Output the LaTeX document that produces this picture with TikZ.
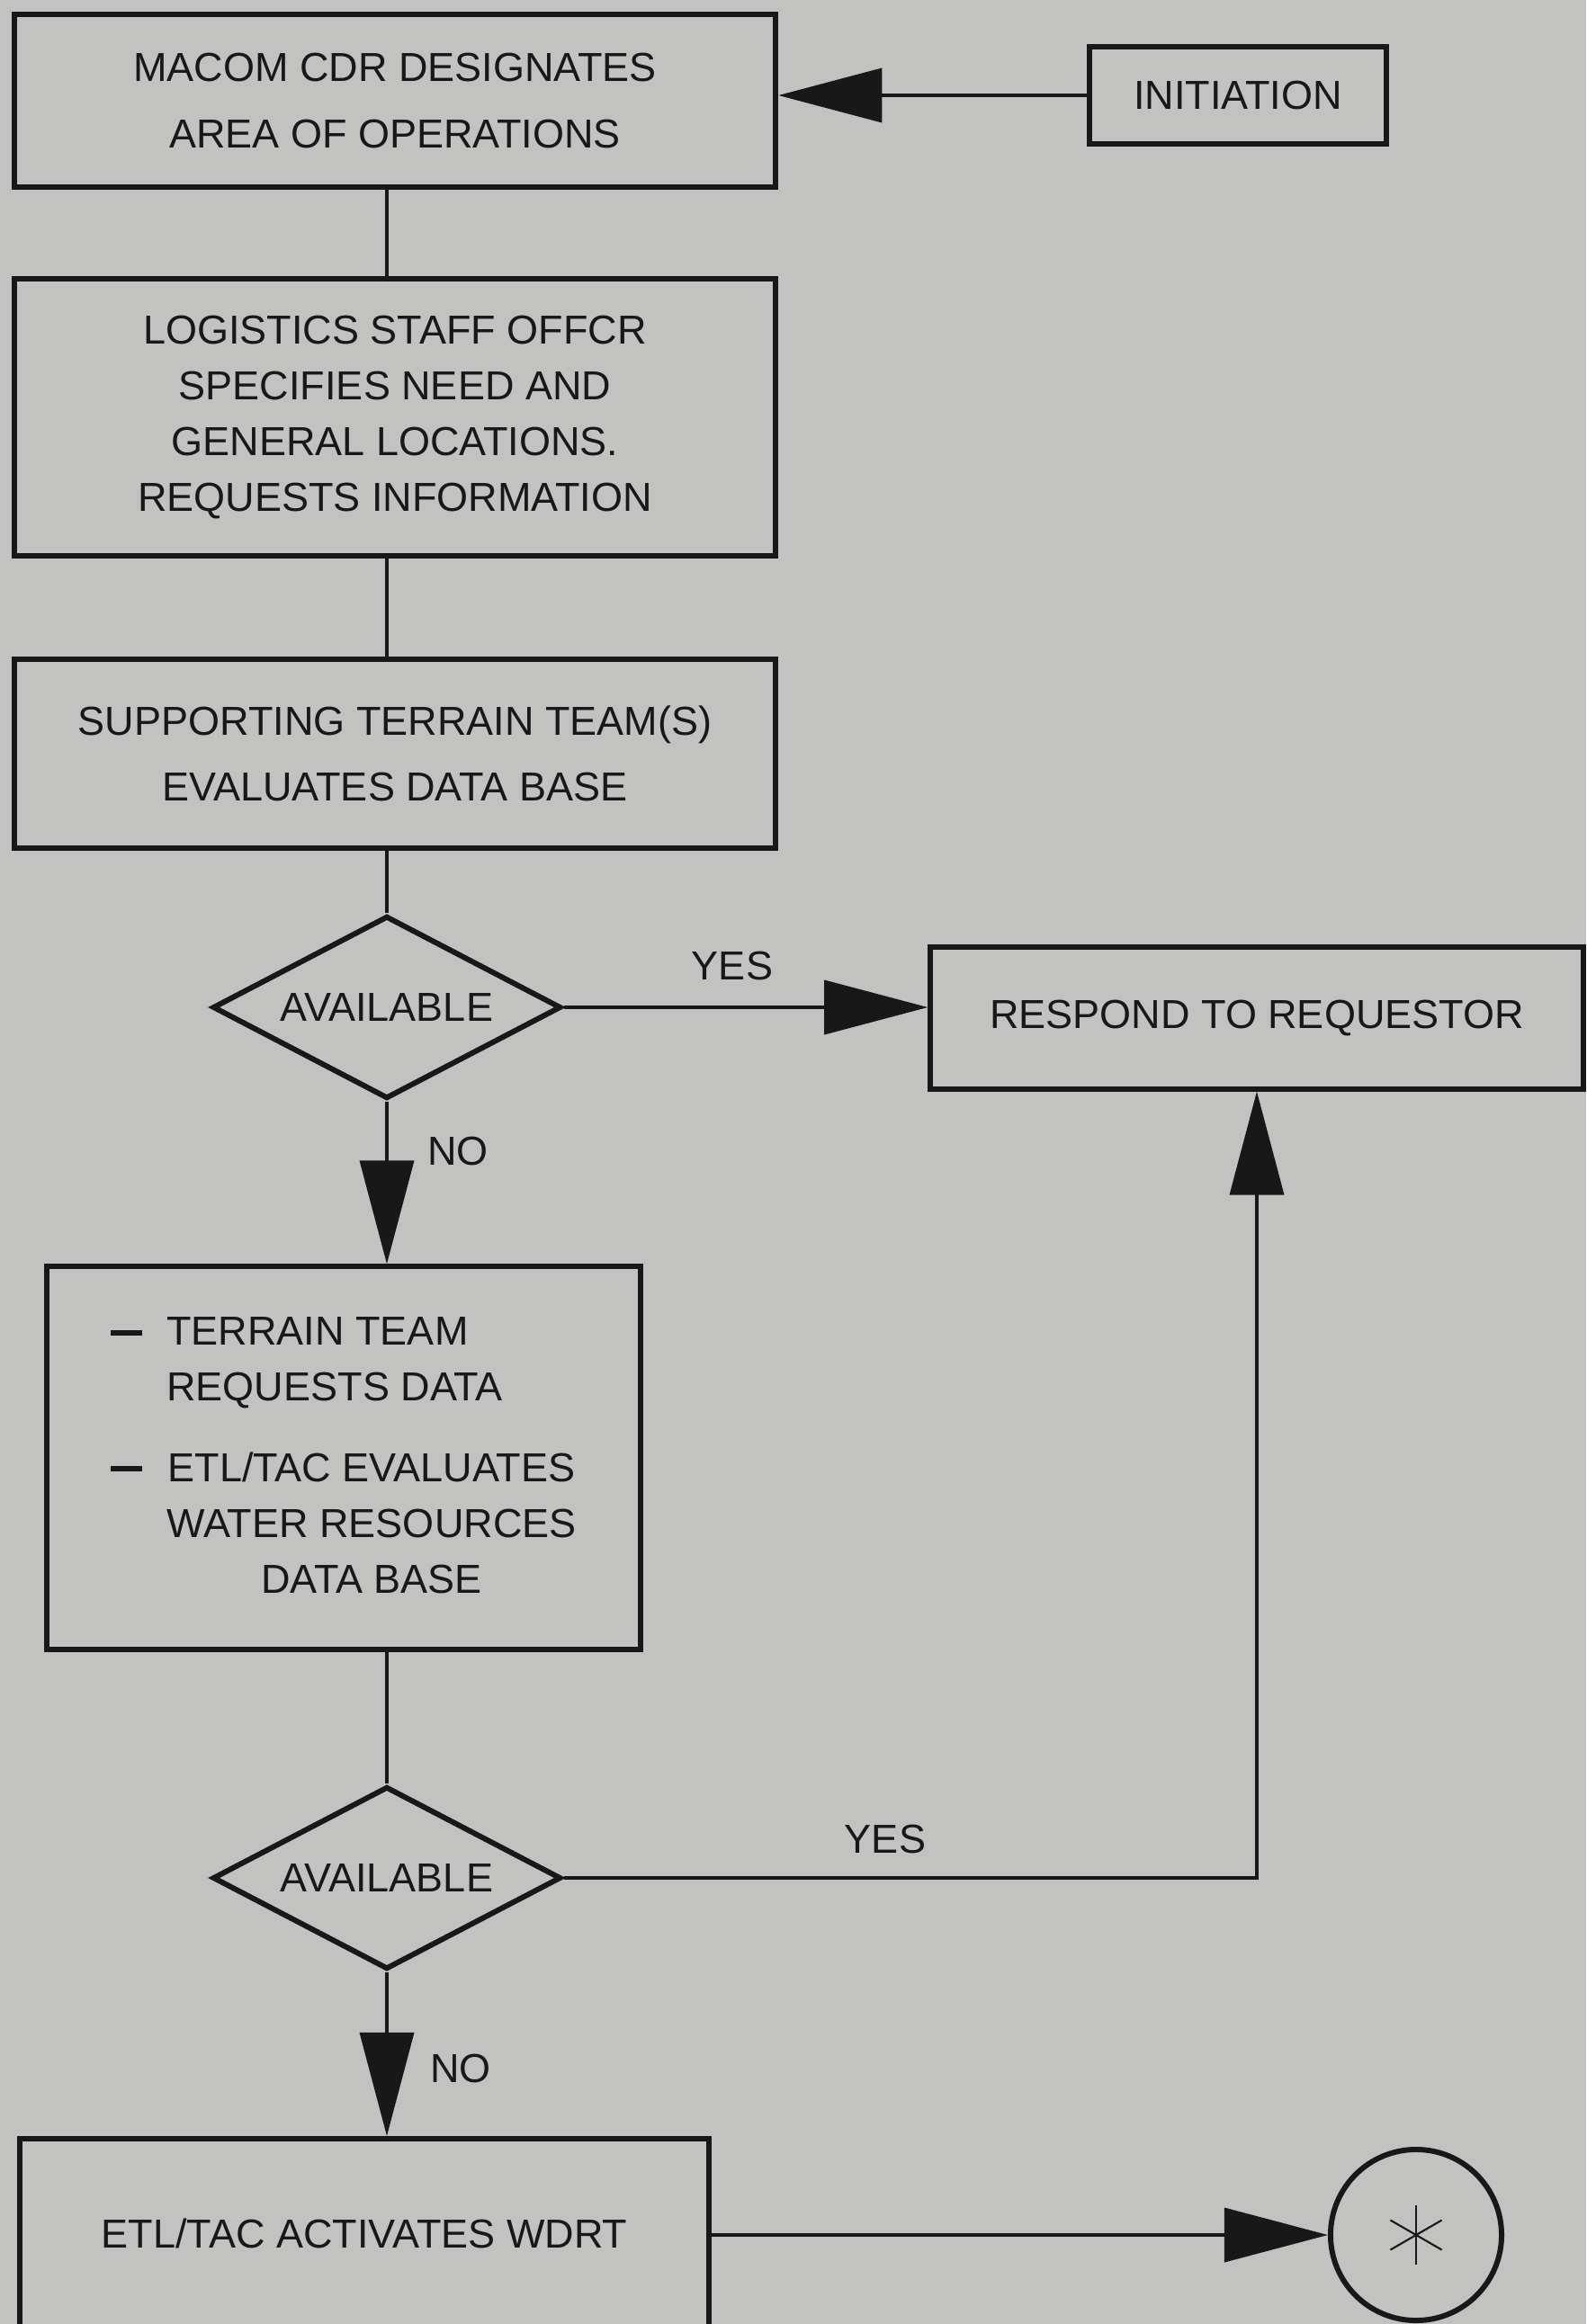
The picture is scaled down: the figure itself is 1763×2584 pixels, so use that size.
\documentclass[tikz,border=0pt]{standalone}
\usepackage{fontspec}
\setmainfont{Liberation Sans}
\usetikzlibrary{shapes.geometric,arrows.meta}
\definecolor{paper}{RGB}{194,194,192}
\definecolor{ink}{RGB}{24,24,24}
\newcommand{\itemdash}{\rule[0.11cm]{0.35cm}{0.06cm}}

\begin{document}
\begin{tikzpicture}[x=0.01cm,y=-0.01cm,
  every node/.style={font=\fontsize{12.8}{17.6}\selectfont, text=ink},
  box/.style={draw=ink, line width=1.7pt, align=center, inner sep=0pt},
  deci/.style={draw=ink, line width=1.7pt, diamond, aspect=2, inner sep=0pt,
    minimum width=3.87cm, minimum height=2.03cm},
  link/.style={draw=ink, line width=1pt},
  arr/.style={link, -{Triangle[length=1.15cm,width=0.6cm]}},
  ]

  % Paper
  \fill[paper] (0,0) rectangle (1763,2584);
  \useasboundingbox (0,0) rectangle (1763,2584);

  % Boxes
  \node[box, minimum width=8.46cm, minimum height=1.92cm] (mac) at (439,112)
    {MACOM CDR DESIGNATES\\[3.6pt] AREA OF OPERATIONS};
  \node[box, minimum width=3.3cm, minimum height=1.07cm] (init) at (1376,106) {INITIATION};
  \node[box, minimum width=8.46cm, minimum height=3.08cm] (logi) at (439,464)
    {LOGISTICS STAFF OFFCR\\ SPECIFIES NEED AND\\ GENERAL LOCATIONS.\\ REQUESTS INFORMATION};
  \node[box, minimum width=8.46cm, minimum height=2.10cm] (terr) at (439,838)
    {SUPPORTING TERRAIN TEAM(S)\\[3.2pt] EVALUATES DATA BASE};
  \node[box, minimum width=7.25cm, minimum height=1.57cm] (resp) at (1397,1132) {RESPOND TO REQUESTOR};
  \node[box, minimum width=6.59cm, minimum height=4.25cm] (wtr) at (382,1621)
    {\begin{tabular}{@{}l@{\hspace{0.27cm}}l@{}}
      \itemdash & TERRAIN TEAM\\
                & REQUESTS DATA\\[8pt]
      \itemdash & \begin{tabular}[t]{@{}c@{}}ETL/TAC EVALUATES\\ WATER RESOURCES\\ DATA BASE\end{tabular}
    \end{tabular}};
  \node[box, minimum width=7.65cm, minimum height=2.1cm] (wdrt) at (405,2483) {ETL/TAC ACTIVATES WDRT};

  % Decisions
  \node[deci] (av1) at (430,1120) {AVAILABLE};
  \node[deci] (av2) at (430,2088) {AVAILABLE};

  % Continuation circle
  \node[circle, draw=ink, line width=1.7pt, minimum size=1.9cm, inner sep=0pt] (cont) at (1574,2485) {};
  \foreach \a in {90,30,150}
    \draw[ink, line width=0.6pt] (cont.center) ++(\a:33) -- ++(\a+180:66);

  % Connectors
  \draw[arr] (init.west) -- (init.west -| mac.east);
  \draw[link] (mac.south -| av1) -- (logi.north -| av1);
  \draw[link] (logi.south -| av1) -- (terr.north -| av1);
  \draw[link] (terr.south -| av1) -- (av1.north);
  \draw[arr] (av1.east) -- (resp.west |- av1.east);
  \draw[arr] (av1.south) -- (wtr.north -| av1);
  \draw[link] (wtr.south -| av2) -- (av2.north);
  \draw[arr] (av2.east) -| (resp.south);
  \draw[arr] (av2.south) -- (wdrt.north -| av2);
  \draw[arr] (wdrt.east |- cont) -- (cont.west);

  % Branch labels
  \node (yes1) at (814,1074) {YES};
  \node (no1) at (509,1280) {NO};
  \node (yes2) at (984,2045) {YES};
  \node (no2) at (512,2300) {NO};

\end{tikzpicture}
\end{document}
